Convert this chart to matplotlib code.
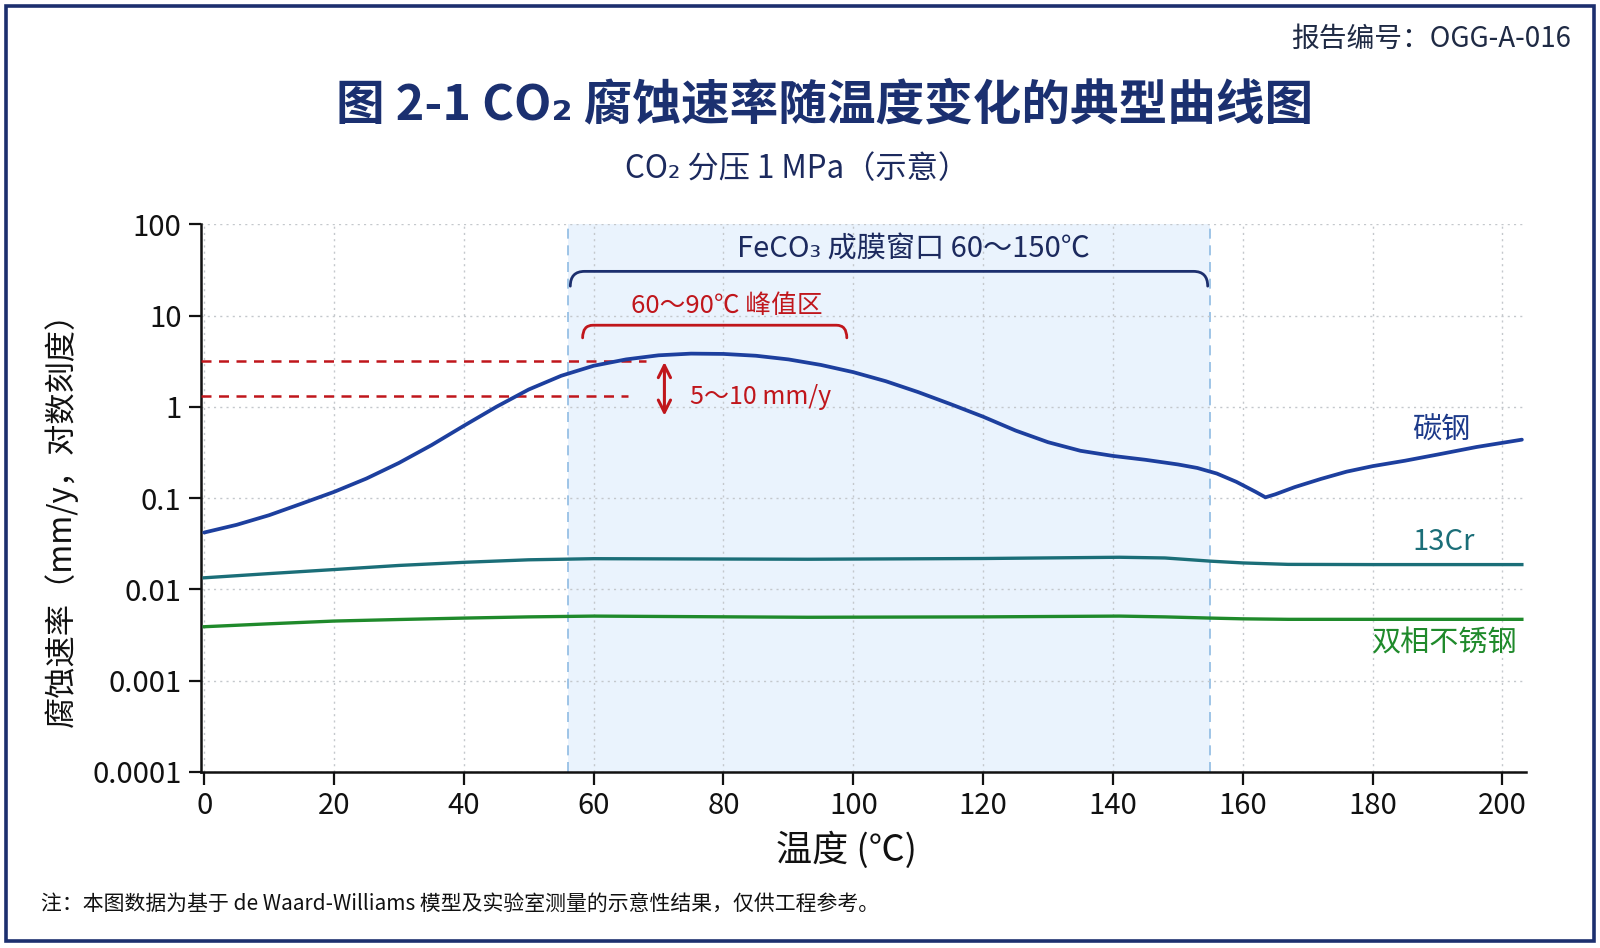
import matplotlib
matplotlib.use("Agg")
import matplotlib.pyplot as plt
from matplotlib.path import Path
from matplotlib.patches import PathPatch, Rectangle

plt.rcParams['font.family'] = ['Noto Sans CJK SC', 'DejaVu Sans']

# ---------------- data ----------------
temp_cs = [0, 5, 10, 15, 20, 25, 30, 35, 40, 45, 50, 55, 60, 65, 70, 75, 80, 85, 90, 95,
           100, 105, 110, 115, 120, 125, 130, 135, 140, 145, 150, 153, 156, 159, 162,
           163.5, 165, 168, 172, 176, 180, 185, 190, 196, 203]
rate_cs = [0.042, 0.051, 0.065, 0.087, 0.117, 0.164, 0.243, 0.38, 0.62, 1.0, 1.55, 2.19,
           2.82, 3.31, 3.67, 3.83, 3.80, 3.63, 3.31, 2.88, 2.40, 1.91, 1.45, 1.07, 0.78,
           0.55, 0.41, 0.33, 0.29, 0.263, 0.234, 0.214, 0.186, 0.151, 0.117, 0.102, 0.11,
           0.132, 0.162, 0.195, 0.224, 0.257, 0.30, 0.363, 0.437]

temp_cr = [0, 10, 20, 30, 40, 50, 60, 93, 120, 141, 148, 155, 160, 167, 180, 203]
rate_cr = [0.0134, 0.0149, 0.0165, 0.0183, 0.0198, 0.0211, 0.0217, 0.0214, 0.0218, 0.0225,
           0.0221, 0.0204, 0.0195, 0.0188, 0.0187, 0.0187]

temp_dss = [0, 10, 20, 30, 40, 50, 60, 93, 120, 141, 148, 155, 160, 167, 180, 203]
rate_dss = [0.0039, 0.0042, 0.0045, 0.00468, 0.00485, 0.005, 0.0051, 0.00495, 0.005, 0.0051,
            0.005, 0.00485, 0.00476, 0.0047, 0.0047, 0.0047]

x_ticks = [0, 20, 40, 60, 80, 100, 120, 140, 160, 180, 200]
y_ticks = [1e-4, 1e-3, 1e-2, 1e-1, 1, 10, 100]
y_tick_labels = ["0.0001", "0.001", "0.01", "0.1", "1", "10", "100"]

window_range = (56, 155)      # FeCO3 成膜窗口 (as drawn)
peak_range = (58.3, 99)       # 峰值区 bracket
ref_lines = [3.18, 1.31]      # red dashed reference levels

NAVY = '#1c2f6e'
RED = '#c0161c'
C_CS = '#1d3f9e'
C_CR = '#1b6e78'
C_DSS = '#1f8a2b'

fig = plt.figure(figsize=(16, 9.48), dpi=100)
fig.patch.set_facecolor('white')

ax = fig.add_axes([0.1256, 0.1857, 0.828, 0.5777])
ax.set_yscale('log')
ax.set_xlim(-0.5, 203.6)
ax.set_ylim(1e-4, 100)

# shaded window
ax.axvspan(window_range[0], window_range[1], color='#eaf3fd', zorder=0, lw=0)
for xv in window_range:
    ax.axvline(xv, color='#8fbbe3', lw=1.2, ls=(0, (6, 4)), zorder=1)

# ticks / grid
ax.set_xticks(x_ticks)
ax.set_yticks(y_ticks)
ax.set_yticklabels(y_tick_labels)
ax.yaxis.set_minor_locator(matplotlib.ticker.NullLocator())
ax.grid(True, which='major', color='#c4c8cc', lw=1.0, ls=(0, (1.5, 3)), zorder=0.5)

# curves
ax.plot(temp_cs, rate_cs, color=C_CS, lw=2.7, zorder=4, solid_capstyle='round',
        solid_joinstyle='round')
ax.plot(temp_cr, rate_cr, color=C_CR, lw=2.4, zorder=4, solid_joinstyle='round')
ax.plot(temp_dss, rate_dss, color=C_DSS, lw=2.4, zorder=4, solid_joinstyle='round')

# red dashed reference lines + arrow
ax.plot([-0.5, 68], [ref_lines[0]] * 2, color=RED, lw=1.8, ls=(0, (4, 3)), zorder=3)
ax.plot([-0.5, 65.3], [ref_lines[1]] * 2, color=RED, lw=1.8, ls=(0, (4, 3)), zorder=3)
ax.annotate('', xy=(70.9, 0.80), xytext=(70.9, 3.1),
            arrowprops=dict(arrowstyle='<->', color=RED, lw=2.2, mutation_scale=22,
                            shrinkA=0, shrinkB=0), zorder=5)
ax.text(74.9, 1.28, '5～10 mm/y', color=RED, fontsize=18, va='center', ha='left', zorder=5)


def bracket(x0, x1, yl, ye, dx, color, lw):
    verts = [(x0, ye), (x0, yl), (x0 + dx, yl), (x1 - dx, yl), (x1, yl), (x1, ye)]
    codes = [Path.MOVETO, Path.CURVE3, Path.CURVE3, Path.LINETO, Path.CURVE3, Path.CURVE3]
    ax.add_patch(PathPatch(Path(verts, codes), fill=False, edgecolor=color, lw=lw, zorder=5,
                           capstyle='round'))


bracket(56.4, 154.6, 30.5, 21.0, 2.2, NAVY, 2.0)
bracket(peak_range[0], peak_range[1], 7.84, 5.7, 1.6, RED, 2.0)
ax.text(109.3, 53, 'FeCO₃ 成膜窗口 60～150℃', color='#1c2a5e', fontsize=21,
        ha='center', va='center', zorder=5)
ax.text(80.5, 12.8, '60～90℃ 峰值区', color=RED, fontsize=18.5, ha='center', va='center',
        zorder=5)

# series labels
ax.text(190.6, 0.55, '碳钢', color='#1d3a8a', fontsize=21, ha='center', va='center')
ax.text(190.9, 0.033, '13Cr', color=C_CR, fontsize=21, ha='center', va='center')
ax.text(202.3, 0.00253, '双相不锈钢', color=C_DSS, fontsize=21, ha='right', va='center')

# spines and ticks
for s in ['top', 'right']:
    ax.spines[s].set_visible(False)
for s in ['left', 'bottom']:
    ax.spines[s].set_linewidth(1.8)
    ax.spines[s].set_color('#111111')
ax.tick_params(axis='both', which='major', direction='out', length=9, width=1.6,
               color='#111111', labelsize=21, labelcolor='#111111', pad=5)
ax.set_facecolor('none')

# axis labels
fig.text(0.529, 0.1034, '温度 (℃)', fontsize=26, ha='center', va='center', color='#111111')
fig.text(0.038, 0.46, '腐蚀速率（mm/y，对数刻度）', fontsize=22.5, ha='center', va='center',
         rotation=90, color='#111111')

# titles
fig.text(0.5156, 0.889, '图 2-1 CO₂ 腐蚀速率随温度变化的典型曲线图', fontsize=35,
         fontweight='bold', ha='center', va='center', color='#1b3070')
fig.text(0.498, 0.822, 'CO₂ 分压 1 MPa（示意）', fontsize=22.5, ha='center', va='center',
         color='#1c2a5e')
fig.text(0.982, 0.959, '报告编号：OGG-A-016', fontsize=20, ha='right', va='center',
         color='#1f2a44')
fig.text(0.0256, 0.0464,
         '注：本图数据为基于 de Waard-Williams 模型及实验室测量的示意性结果，仅供工程参考。',
         fontsize=15, ha='left', va='center', color='#111111')

# frame
fig.patches.append(Rectangle((0.0035, 0.0075), 0.993, 0.986, transform=fig.transFigure,
                             fill=False, edgecolor=NAVY, lw=2.6, zorder=10))

fig.savefig('out.png', dpi=100, facecolor='white')
